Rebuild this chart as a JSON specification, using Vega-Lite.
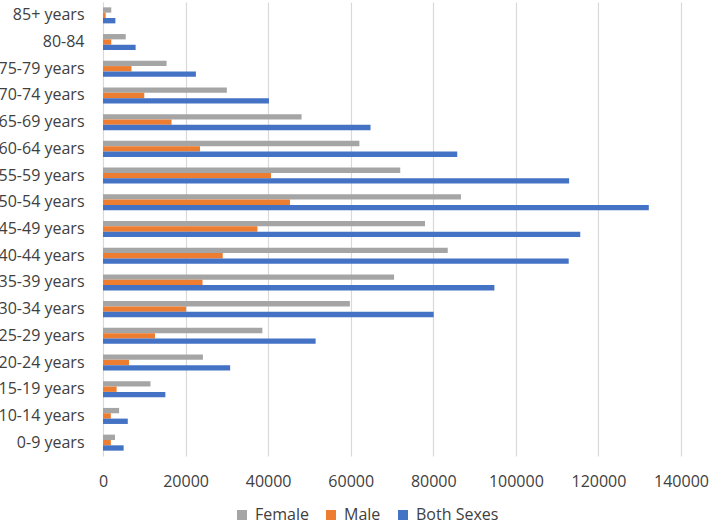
{
  "$schema": "https://vega.github.io/schema/vega-lite/v6.json",
  "width": 578,
  "height": 454,
  "autosize": {"type": "none"},
  "padding": {"left": 103, "top": 2, "right": 28, "bottom": 71},
  "background": "white",
  "config": {
    "view": {"stroke": null},
    "font": "Open Sans",
    "axis": {"labelFont": "Open Sans", "labelFontSize": 16, "labelColor": "#404040"},
    "legend": {"labelFont": "Open Sans", "labelFontSize": 16, "labelColor": "#404040"}
  },
  "data": {
    "values": [
      {"age": "0-9 years", "series": "Female", "value": 2900},
      {"age": "0-9 years", "series": "Male", "value": 1900},
      {"age": "0-9 years", "series": "Both Sexes", "value": 5000},
      {"age": "10-14 years", "series": "Female", "value": 3900},
      {"age": "10-14 years", "series": "Male", "value": 1900},
      {"age": "10-14 years", "series": "Both Sexes", "value": 6000},
      {"age": "15-19 years", "series": "Female", "value": 11500},
      {"age": "15-19 years", "series": "Male", "value": 3300},
      {"age": "15-19 years", "series": "Both Sexes", "value": 15100},
      {"age": "20-24 years", "series": "Female", "value": 24200},
      {"age": "20-24 years", "series": "Male", "value": 6300},
      {"age": "20-24 years", "series": "Both Sexes", "value": 30800},
      {"age": "25-29 years", "series": "Female", "value": 38600},
      {"age": "25-29 years", "series": "Male", "value": 12600},
      {"age": "25-29 years", "series": "Both Sexes", "value": 51500},
      {"age": "30-34 years", "series": "Female", "value": 59800},
      {"age": "30-34 years", "series": "Male", "value": 20100},
      {"age": "30-34 years", "series": "Both Sexes", "value": 80100},
      {"age": "35-39 years", "series": "Female", "value": 70500},
      {"age": "35-39 years", "series": "Male", "value": 24100},
      {"age": "35-39 years", "series": "Both Sexes", "value": 94800},
      {"age": "40-44 years", "series": "Female", "value": 83500},
      {"age": "40-44 years", "series": "Male", "value": 29000},
      {"age": "40-44 years", "series": "Both Sexes", "value": 112800},
      {"age": "45-49 years", "series": "Female", "value": 78000},
      {"age": "45-49 years", "series": "Male", "value": 37400},
      {"age": "45-49 years", "series": "Both Sexes", "value": 115600},
      {"age": "50-54 years", "series": "Female", "value": 86700},
      {"age": "50-54 years", "series": "Male", "value": 45300},
      {"age": "50-54 years", "series": "Both Sexes", "value": 132200},
      {"age": "55-59 years", "series": "Female", "value": 72000},
      {"age": "55-59 years", "series": "Male", "value": 40700},
      {"age": "55-59 years", "series": "Both Sexes", "value": 112900},
      {"age": "60-64 years", "series": "Female", "value": 62100},
      {"age": "60-64 years", "series": "Male", "value": 23500},
      {"age": "60-64 years", "series": "Both Sexes", "value": 85800},
      {"age": "65-69 years", "series": "Female", "value": 48100},
      {"age": "65-69 years", "series": "Male", "value": 16600},
      {"age": "65-69 years", "series": "Both Sexes", "value": 64800},
      {"age": "70-74 years", "series": "Female", "value": 30000},
      {"age": "70-74 years", "series": "Male", "value": 10000},
      {"age": "70-74 years", "series": "Both Sexes", "value": 40200},
      {"age": "75-79 years", "series": "Female", "value": 15400},
      {"age": "75-79 years", "series": "Male", "value": 6900},
      {"age": "75-79 years", "series": "Both Sexes", "value": 22500},
      {"age": "80-84", "series": "Female", "value": 5500},
      {"age": "80-84", "series": "Male", "value": 2000},
      {"age": "80-84", "series": "Both Sexes", "value": 7900},
      {"age": "85+ years", "series": "Female", "value": 2000},
      {"age": "85+ years", "series": "Male", "value": 650},
      {"age": "85+ years", "series": "Both Sexes", "value": 3000}
    ]
  },
  "mark": {"type": "bar"},
  "encoding": {
    "y": {
      "field": "age",
      "type": "nominal",
      "sort": ["85+ years", "80-84", "75-79 years", "70-74 years", "65-69 years", "60-64 years", "55-59 years", "50-54 years", "45-49 years", "40-44 years", "35-39 years", "30-34 years", "25-29 years", "20-24 years", "15-19 years", "10-14 years", "0-9 years"],
      "scale": {"paddingInner": 0.4, "paddingOuter": 0.2},
      "axis": {"title": null, "ticks": false, "domain": false, "labelPadding": 19}
    },
    "yOffset": {
      "field": "series",
      "type": "nominal",
      "sort": ["Female", "Male", "Both Sexes"],
      "scale": {"paddingInner": 0, "paddingOuter": 0}
    },
    "x": {
      "field": "value",
      "type": "quantitative",
      "scale": {"domain": [0, 140000], "nice": false},
      "axis": {"title": null, "ticks": false, "domain": false, "format": "d", "values": [0, 20000, 40000, 60000, 80000, 100000, 120000, 140000], "gridColor": "#D9D9D9", "gridWidth": 1.2, "labelPadding": 17, "labelFlush": false, "labelOverlap": false}
    },
    "color": {
      "field": "series",
      "type": "nominal",
      "sort": ["Female", "Male", "Both Sexes"],
      "scale": {"domain": ["Female", "Male", "Both Sexes"], "range": ["#A5A5A5", "#ED7D31", "#4472C4"]},
      "legend": {"title": null, "orient": "none", "legendX": 131, "legendY": 505, "direction": "horizontal", "symbolType": "square", "symbolSize": 100, "symbolStrokeWidth": 0, "columnPadding": 14, "labelOffset": 5}
    }
  }
}
